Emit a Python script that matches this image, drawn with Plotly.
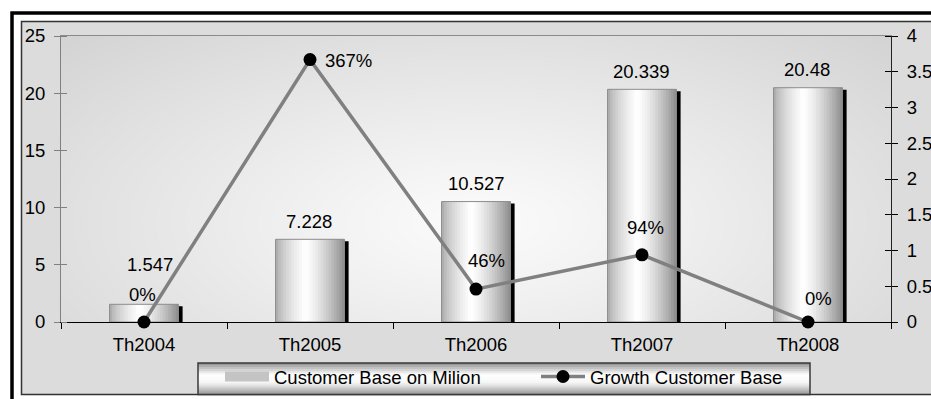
import numpy as np
import plotly.graph_objects as go

# ---- data ----
years = ["Th2004", "Th2005", "Th2006", "Th2007", "Th2008"]
customers = [1.547, 7.228, 10.527, 20.339, 20.48]          # customer base, millions
growth = [0.0, 3.67, 0.46, 0.94, 0.0]                      # growth ratio
bar_labels = ["1.547", "7.228", "10.527", "20.339", "20.48"]
growth_labels = [f"{round(v * 100)}%" for v in growth]
left_ticks = [0, 5, 10, 15, 20, 25]
right_ticks = [0, 0.5, 1, 1.5, 2, 2.5, 3, 3.5, 4]
right_tick_text = ["0", "0.5", "1", "1.5", "2", "2.5", "3", "3.5", "4"]

# ---- layout geometry (pixels) ----
W, H = 931, 399
PL, PR, PT, PB = 61, 891, 36, 322


def px_x(p):
    return (p - PL) / (PR - PL)


def px_y(p):
    return (PB - p) / (PB - PT)


FONT = "Liberation Sans, Arial, sans-serif"
FS = 18.5

# label nudges in pixels (dx right, dy up)
bar_label_dx = [6, -1.5, 0, -0.5, -1]
bar_label_dy = [40, 18, 18, 18, 18.5]
growth_label_dx = [-1.5, 38.5, 10.7, 3, 10]
growth_label_dy = [28, -1, 29, 27, 23.5]

fig = go.Figure()

# soft radial shading behind the plot area
nx, ny = 90, 50
gx = np.linspace(0, 1, nx)
gy = np.linspace(0, 1, ny)
GX, GY = np.meshgrid(gx, gy)
dist = np.sqrt(((GX - 0.5) / 0.5) ** 2 + ((GY - 0.35) / 0.65) ** 2) / np.sqrt(2)
dist = np.clip(dist, 0, 1)
shade = 251 - 40 * dist ** 1.1
fig.add_trace(go.Heatmap(
    x=gx, y=gy, z=shade, zmin=0, zmax=255,
    colorscale=[[0, "black"], [1, "white"]], showscale=False,
    zsmooth="best", hoverinfo="skip", xaxis="x", yaxis="y"))

BW = 0.415      # bar width in category units
SH = 0.025      # shadow shift

# drop shadow of the columns
fig.add_trace(go.Bar(
    x=years, y=customers, width=BW, offset=-BW / 2 + SH,
    marker=dict(color="black", line=dict(width=0)),
    xaxis="x2", yaxis="y2", showlegend=False, hoverinfo="skip"))

# cylinder-like shading of the columns, drawn as thin vertical strips
N = 26


def strip_gray(t):
    if t < 0.42:
        g = 160 + 95 * (t / 0.42) ** 0.6
    else:
        g = 255 - 115 * ((t - 0.42) / 0.58) ** 1.4
    g = int(round(g))
    return f"rgb({g},{g},{g})"


for k in range(N):
    t = (k + 0.5) / N
    wk = min(BW / N * 1.6, BW - k * BW / N)
    fig.add_trace(go.Bar(
        x=years, y=customers, width=wk, offset=-BW / 2 + k * BW / N,
        marker=dict(color=strip_gray(t), line=dict(width=0)),
        xaxis="x2", yaxis="y3", showlegend=False, hoverinfo="skip"))

# column outline
fig.add_trace(go.Bar(
    x=years, y=customers, width=BW, offset=-BW / 2,
    marker=dict(color="rgba(0,0,0,0)", line=dict(color="#8c8c8c", width=1)),
    xaxis="x2", yaxis="y3", showlegend=False,
    hovertemplate="%{x}: %{y}<extra></extra>"))

# legend entry for the columns
fig.add_trace(go.Scatter(
    x=[None], y=[None], mode="lines", name="Customer Base on Milion",
    line=dict(color="#c4c4c4", width=10), xaxis="x2", yaxis="y3"))

# growth line
fig.add_trace(go.Scatter(
    x=years, y=growth, mode="lines+markers", name="Growth Customer Base",
    line=dict(color="#808080", width=3.5),
    marker=dict(color="black", size=13),
    xaxis="x2", yaxis="y4", cliponaxis=False))

annotations = []
for i, (yr, v, lab) in enumerate(zip(years, customers, bar_labels)):
    annotations.append(dict(
        x=yr, y=v, xref="x2", yref="y3", text=lab, showarrow=False,
        xanchor="center", yanchor="middle",
        xshift=bar_label_dx[i], yshift=bar_label_dy[i],
        font=dict(family=FONT, size=FS, color="black")))
for i, (yr, v, lab) in enumerate(zip(years, growth, growth_labels)):
    annotations.append(dict(
        x=yr, y=v, xref="x2", yref="y4", text=lab, showarrow=False,
        xanchor="center", yanchor="middle",
        xshift=growth_label_dx[i], yshift=growth_label_dy[i],
        font=dict(family=FONT, size=FS, color="black")))

shapes = []
# double frame around the chart
shapes.append(dict(type="rect", xref="paper", yref="paper",
                   x0=px_x(12), x1=px_x(990), y0=px_y(13), y1=px_y(440),
                   line=dict(color="black", width=3.5), fillcolor="rgba(0,0,0,0)",
                   layer="below"))
shapes.append(dict(type="rect", xref="paper", yref="paper",
                   x0=px_x(21.5), x1=px_x(990), y0=px_y(21.5), y1=px_y(394.5),
                   line=dict(color="#333333", width=1.5), fillcolor="#dcdcdc",
                   layer="below"))

# legend box with a metallic vertical gradient
LX0, LX1, LY0, LY1 = 198, 810, 363, 394.5
NL = 16


def legend_gray(t):
    if t < 0.38:
        g = 135 + 120 * (t / 0.38) ** 0.8
    elif t < 0.6:
        g = 255 - 8 * (t - 0.38) / 0.22
    else:
        g = 247 - 100 * ((t - 0.6) / 0.4) ** 1.2
    g = int(round(g))
    return f"rgb({g},{g},{g})"


for k in range(NL):
    ya = LY0 + (LY1 - LY0) * k / NL
    yb = LY0 + (LY1 - LY0) * (k + 1.4) / NL
    yb = min(yb, LY1)
    shapes.append(dict(type="rect", xref="paper", yref="paper",
                       x0=px_x(LX0), x1=px_x(LX1), y0=px_y(ya), y1=px_y(yb),
                       line=dict(width=0), fillcolor=legend_gray((k + 0.5) / NL),
                       layer="below"))
shapes.append(dict(type="rect", xref="paper", yref="paper",
                   x0=px_x(LX0), x1=px_x(LX1), y0=px_y(LY0), y1=px_y(LY1),
                   line=dict(color="#3a3a3a", width=1.5), fillcolor="rgba(0,0,0,0)",
                   layer="below"))

tick_font = dict(family=FONT, size=FS, color="black")

fig.update_layout(
    width=W, height=H, autosize=False,
    margin=dict(l=PL, r=W - PR, t=PT, b=H - PB, pad=0),
    paper_bgcolor="white", plot_bgcolor="rgba(0,0,0,0)",
    barmode="overlay",
    font=dict(family=FONT, size=FS, color="black"),
    showlegend=True,
    legend=dict(orientation="h", xref="container", yref="container",
                x=220 / W, y=1 - 358 / H, xanchor="left", yanchor="top",
                bgcolor="rgba(0,0,0,0)", borderwidth=0, itemwidth=44,
                entrywidth=257, font=dict(family=FONT, size=FS, color="black"),
                traceorder="normal"),
    xaxis=dict(domain=[0, 1], range=[0, 1], showticklabels=False, ticks="",
               showgrid=False, zeroline=False, showline=True, linecolor="#8a8a8a",
               linewidth=1, mirror=True, fixedrange=True),
    yaxis=dict(domain=[0, 1], range=[0, 1], showticklabels=False, ticks="",
               showgrid=False, zeroline=False, showline=True, linecolor="#8a8a8a",
               linewidth=1, mirror=True, fixedrange=True),
    xaxis2=dict(type="category", overlaying="x", side="bottom", range=[-0.5, 4.5],
                showline=True, linecolor="black", linewidth=1,
                ticks="outside", tickson="boundaries", ticklen=6, tickcolor="black",
                tickfont=tick_font, showgrid=False, zeroline=False,
                ticklabelstandoff=6, automargin=False),
    # inner half of the category tick marks
    xaxis3=dict(type="category", overlaying="x", side="bottom", anchor="y",
                categoryarray=years, categoryorder="array", range=[-0.5, 4.5],
                showline=False, ticks="inside", tickson="boundaries", ticklen=6,
                tickcolor="black", showticklabels=False, showgrid=False,
                zeroline=False, automargin=False),
    yaxis2=dict(overlaying="y", range=[0.175, 25.175], visible=False),
    yaxis3=dict(overlaying="y", side="left", range=[0, 25], tickvals=left_ticks,
                ticks="outside", ticklen=6, tickcolor="#808080",
                minor=dict(tickvals=left_ticks, ticks="inside", ticklen=6,
                           tickcolor="#808080"),
                showline=True, linecolor="#808080", linewidth=1,
                showgrid=False, zeroline=False, tickfont=tick_font,
                ticklabelstandoff=5, automargin=False),
    yaxis4=dict(overlaying="y", side="right", range=[0, 4], tickvals=right_ticks,
                ticktext=right_tick_text,
                ticks="outside", ticklen=6, tickcolor="black",
                minor=dict(tickvals=right_ticks, ticks="inside", ticklen=6,
                           tickcolor="black"),
                showline=True, linecolor="#222222", linewidth=1,
                showgrid=False, zeroline=False, tickfont=tick_font,
                ticklabelstandoff=5, automargin=False),
    annotations=annotations,
    shapes=shapes,
)

fig.write_html("out.html", config={"displayModeBar": False})
